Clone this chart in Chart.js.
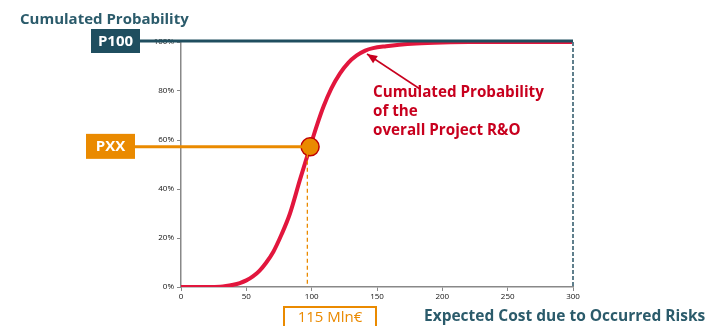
<!DOCTYPE html>
<html>
<head>
<meta charset="utf-8">
<script src="https://cdn.jsdelivr.net/npm/chart.js@4/dist/chart.umd.min.js"></script>
<style>
html,body{margin:0;padding:0;background:#fff;}
#wrap{width:706px;height:326px;position:relative;}
</style>
</head>
<body>
<div id="wrap"><canvas id="c" width="706" height="326"></canvas></div>
<script>
// ---- data ----
const costValues = [0, 20, 30, 40, 45, 50, 55, 60, 65, 70.7, 77, 83.4, 91, 98.8, 104, 109, 115, 121.7, 128, 134.5, 141, 147, 157, 167, 180, 200, 220, 300];
const cumProbValues = [0, 0, 0.1, 0.9, 1.6, 2.7, 4.3, 6.6, 9.8, 14.4, 21.5, 30, 43.7, 57.2, 66, 73.6, 81, 87.2, 91.5, 94.5, 96.5, 97.5, 98.3, 98.9, 99.4, 99.8, 100, 100];
const markerCost = [98.8];
const markerProb = [57.2];
const dashedCost = [96.7];
const p100Level = [100];
const xTicks = [0, 50, 100, 150, 200, 250, 300];
const yTicks = [0, 20, 40, 60, 80, 100];
const yAxisTitle = "Cumulated Probability";
const xAxisTitle = "Expected Cost due to Occurred Risks";
const costLabel = "115 Mln€";
const curveNote = ["Cumulated Probability", "of the", "overall Project R&O"];

const curveData = costValues.map((x, i) => ({x, y: cumProbValues[i]}));
const markerData = markerCost.map((x, i) => ({x, y: markerProb[i]}));

const TEAL = '#1f4e5f';
const TEAL_TXT = '#2b5b6b';
const ORANGE = '#ea8a00';
const RED = '#e2163d';
const DARKRED = '#c8001e';
const FONT = '"Open Sans", "Liberation Sans", sans-serif';

const overlay = {
  id: 'overlay',
  afterDatasetsDraw(chart) {
    const ctx = chart.ctx;
    const xs = chart.scales.x, ys = chart.scales.y;
    const ca = chart.chartArea;
    ctx.save();
    // right dashed border
    ctx.strokeStyle = '#5f7f8c';
    ctx.lineWidth = 2;
    ctx.setLineDash([4, 2]);
    ctx.beginPath();
    ctx.moveTo(ca.right, ys.getPixelForValue(p100Level[0]));
    ctx.lineTo(ca.right, ca.bottom);
    ctx.stroke();
    ctx.setLineDash([]);

    // P100 line and box
    const yP = ys.getPixelForValue(p100Level[0]) - 1;
    ctx.strokeStyle = TEAL;
    ctx.lineWidth = 3;
    ctx.beginPath();
    ctx.moveTo(130, yP);
    ctx.lineTo(ca.right, yP);
    ctx.stroke();
    ctx.fillStyle = TEAL;
    ctx.fillRect(91, yP - 12, 49, 24);
    ctx.fillStyle = '#fff';
    ctx.font = 'bold 15px ' + FONT;
    ctx.textAlign = 'center';
    ctx.textBaseline = 'middle';
    ctx.fillText('P100', 115.5, yP + 1);

    // PXX line & box
    const mx = xs.getPixelForValue(markerCost[0]);
    const my = ys.getPixelForValue(markerProb[0]);
    ctx.strokeStyle = ORANGE;
    ctx.lineWidth = 3;
    ctx.beginPath();
    ctx.moveTo(130, my);
    ctx.lineTo(mx, my);
    ctx.stroke();
    // dashed vertical
    const dx = xs.getPixelForValue(dashedCost[0]);
    ctx.lineWidth = 1.3;
    ctx.setLineDash([4, 3]);
    ctx.beginPath();
    ctx.moveTo(dx, my);
    ctx.lineTo(dx, ca.bottom);
    ctx.stroke();
    ctx.setLineDash([]);
    ctx.fillStyle = ORANGE;
    ctx.fillRect(86, my - 13, 49, 25);
    ctx.fillStyle = '#fff';
    ctx.fillText('PXX', 110.5, my);

    // cost label box
    ctx.strokeStyle = ORANGE;
    ctx.lineWidth = 2;
    ctx.strokeRect(284, 307, 92, 24);
    ctx.fillStyle = ORANGE;
    ctx.font = '15px ' + FONT;
    ctx.fillText(costLabel, 330, 318);

    // titles
    ctx.fillStyle = TEAL_TXT;
    ctx.textAlign = 'left';
    ctx.font = 'bold 15px ' + FONT;
    ctx.fillText(yAxisTitle, 20, 20);
    ctx.font = 'bold 15.5px ' + FONT;
    ctx.fillText(xAxisTitle, 424, 317);

    // annotation
    ctx.fillStyle = DARKRED;
    ctx.font = 'bold 15.2px ' + FONT;
    curveNote.forEach((t, i) => ctx.fillText(t, 373, 93 + i * 19));
    // arrow
    ctx.strokeStyle = DARKRED;
    ctx.lineWidth = 1.5;
    const x1 = 420, y1 = 89, x2 = 367, y2 = 54;
    ctx.beginPath();
    ctx.moveTo(x1, y1);
    ctx.lineTo(x2, y2);
    ctx.stroke();
    const ang = Math.atan2(y2 - y1, x2 - x1);
    ctx.beginPath();
    ctx.moveTo(x2, y2);
    ctx.lineTo(x2 - 11 * Math.cos(ang - 0.4), y2 - 11 * Math.sin(ang - 0.4));
    ctx.lineTo(x2 - 11 * Math.cos(ang + 0.4), y2 - 11 * Math.sin(ang + 0.4));
    ctx.closePath();
    ctx.fillStyle = DARKRED;
    ctx.fill();
    ctx.restore();
  }
};

new Chart(document.getElementById('c'), {
  type: 'line',
  data: {
    datasets: [
      {
        data: markerData,
        pointRadius: 9,
        pointBackgroundColor: ORANGE,
        pointBorderColor: '#c00000',
        pointBorderWidth: 1.5,
        showLine: false,
        order: 0
      },
      {
        data: curveData,
        borderColor: RED,
        borderWidth: 4,
        pointRadius: 0,
        cubicInterpolationMode: 'monotone',
        fill: false,
        order: 1
      }
    ]
  },
  options: {
    responsive: false,
    animation: false,
    layout: {padding: {left: 0, right: 133, top: 42, bottom: 19}},
    plugins: {legend: {display: false}, tooltip: {enabled: false}},
    scales: {
      x: {
        type: 'linear', min: 0, max: 300,
        afterBuildTicks(s) { s.ticks = xTicks.map(v => ({value: v})); },
        afterFit(s) { s.height = 20; },
        grid: {drawOnChartArea: false, drawTicks: true, tickLength: 4, color: '#888'},
        border: {display: true, color: '#888', width: 1.5},
        ticks: {font: {size: 8, family: FONT}, color: '#111', padding: 1, maxRotation: 0}
      },
      y: {
        min: 0, max: 100,
        afterBuildTicks(s) { s.ticks = yTicks.map(v => ({value: v})); },
        afterFit(s) { s.width = 181; },
        grid: {drawOnChartArea: false, drawTicks: true, tickLength: 4, color: '#888'},
        border: {display: true, color: '#888', width: 1.5},
        ticks: {font: {size: 8, family: FONT}, color: '#111', padding: 3, callback: v => v + '%'}
      }
    }
  },
  plugins: [overlay]
});
</script>
</body>
</html>
